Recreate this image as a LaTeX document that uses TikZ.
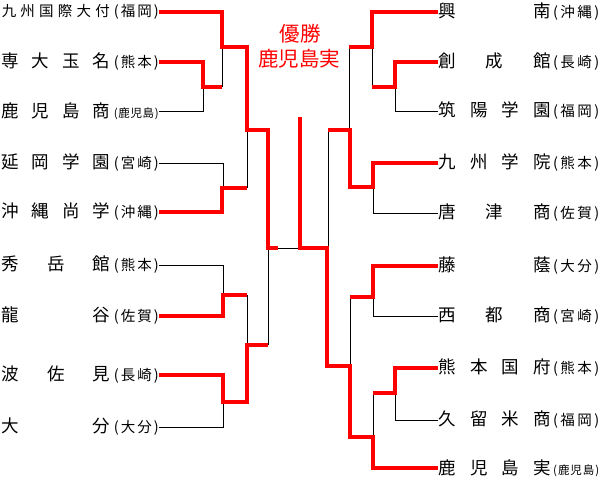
\documentclass[tikz,border=0pt]{standalone}
\usepackage{fontspec}
\setmainfont{Noto Sans CJK JP}
\newcommand{\pf}[2]{\fontsize{14.5}{14.5}\selectfont (\hfill #1\hfill #2\hfill )}
\newcommand{\pfk}{\fontsize{11.5}{11.5}\selectfont (\hfill 鹿\hfill 児\hfill 島\hfill )}
\newcommand{\tmL}[2]{\makebox[108pt][s]{#1}\hspace{4pt}\makebox[45pt][s]{#2}}
\newcommand{\tmR}[2]{\makebox[113pt][s]{#1}\hspace{2pt}\makebox[46pt][s]{#2}}
\begin{document}
\begin{tikzpicture}[x=1pt,y=-1pt,
  team/.style={inner sep=0pt,font=\fontsize{17.5}{17.5}\selectfont},
  win/.style={red,line width=3.5pt,line join=miter},
  lose/.style={black,line width=0.9pt}]
\useasboundingbox (0,0) rectangle (605,477);
% left teams
\node[team,anchor=east] (L1) at (159,12) {\tmL{\fontsize{14.5}{14.5}\selectfont 九\hfill 州\hfill 国\hfill 際\hfill 大\hfill 付}{\pf{福}{岡}}};
\node[team,anchor=east] (L2) at (159,62) {\tmL{専\hfill 大\hfill 玉\hfill 名}{\pf{熊}{本}}};
\node[team,anchor=east] (L3) at (159,111) {\tmL{鹿\hfill 児\hfill 島\hfill 商}{\pfk}};
\node[team,anchor=east] (L4) at (159,163) {\tmL{延\hfill 岡\hfill 学\hfill 園}{\pf{宮}{崎}}};
\node[team,anchor=east] (L5) at (159,212) {\tmL{沖\hfill 縄\hfill 尚\hfill 学}{\pf{沖}{縄}}};
\node[team,anchor=east] (L6) at (159,265) {\tmL{秀\hfill 岳\hfill 館}{\pf{熊}{本}}};
\node[team,anchor=east] (L7) at (159,316) {\tmL{龍\hfill 谷}{\pf{佐}{賀}}};
\node[team,anchor=east] (L8) at (159,375) {\tmL{波\hfill 佐\hfill 見}{\pf{長}{崎}}};
\node[team,anchor=east] (L9) at (159,427) {\tmL{大\hfill 分}{\pf{大}{分}}};
% right teams
\node[team,anchor=west] (R1) at (438,12) {\tmR{興\hfill 南}{\pf{沖}{縄}}};
\node[team,anchor=west] (R2) at (438,62) {\tmR{創\hfill 成\hfill 館}{\pf{長}{崎}}};
\node[team,anchor=west] (R3) at (438,111) {\tmR{筑\hfill 陽\hfill 学\hfill 園}{\pf{福}{岡}}};
\node[team,anchor=west] (R4) at (438,163) {\tmR{九\hfill 州\hfill 学\hfill 院}{\pf{熊}{本}}};
\node[team,anchor=west] (R5) at (438,213) {\tmR{唐\hfill 津\hfill 商}{\pf{佐}{賀}}};
\node[team,anchor=west] (R6) at (438,266) {\tmR{藤\hfill 蔭}{\pf{大}{分}}};
\node[team,anchor=west] (R7) at (438,316) {\tmR{西\hfill 都\hfill 商}{\pf{宮}{崎}}};
\node[team,anchor=west] (R8) at (438,368) {\tmR{熊\hfill 本\hfill 国\hfill 府}{\pf{熊}{本}}};
\node[team,anchor=west] (R9) at (438,420) {\tmR{久\hfill 留\hfill 米\hfill 商}{\pf{福}{岡}}};
\node[team,anchor=west] (R10) at (438,468) {\tmR{鹿\hfill 児\hfill 島\hfill 実}{\pfk}};
% title
\node[red,font=\fontsize{20.5}{20.5}\selectfont] (t1) at (300,34) {優勝};
\node[red,font=\fontsize{20.5}{20.5}\selectfont] (t2) at (299,59) {鹿児島実};
% losers
\draw[lose] (222,47)--(222,87);
\draw[lose] (L3.east) -| (203,87);
\draw[lose] (L4.east) -| (223,188);
\draw[lose] (247,130)--(247,188);
\draw[lose] (L6.east) -| (223,295);
\draw[lose] (247,295)--(247,345);
\draw[lose] (L9.east) -| (223,402);
\draw[lose] (268,248)--(268,345);
\draw[lose] (278,248)--(300,248);
\draw[lose] (372,47)--(372,87);
\draw[lose] (R3.west) -| (395,87);
\draw[lose] (349,47)--(349,130);
\draw[lose] (R5.west) -| (373,187);
\draw[lose] (328,130)--(328,248);
\draw[lose] (R7.west) -| (373,297);
\draw[lose] (350,297)--(350,366);
\draw[lose] (R9.west) -| (395,393);
\draw[lose] (373,393)--(373,437);
% winners
\draw[win] (L1.east) -| (222,47) -- (247,47) -- (247,130) -- (268,130) -- (268,248) -- (278,248);
\draw[win] (L2.east) -| (203,87) -- (222,87);
\draw[win] (L5.east) -| (222,188) -- (247,188);
\draw[win] (L7.east) -| (223,295) -- (247,295);
\draw[win] (L8.east) -| (223,402) -- (247,402) -- (247,345) -- (268,345);
\draw[win] (300,117) -- (300,248) -- (327,248) -- (327,366) -- (350,366) -- (350,437) -- (373,437) -- (373,468) -- (R10.west);
\draw[win] (R1.west) -| (372,47) -- (349,47);
\draw[win] (R2.west) -| (395,87) -- (372,87);
\draw[win] (R4.west) -| (373,187) -- (350,187) -- (350,130) -- (328,130);
\draw[win] (R6.west) -| (373,297) -- (350,297);
\draw[win] (R8.west) -| (395,393) -- (373,393);
\end{tikzpicture}
\end{document}
